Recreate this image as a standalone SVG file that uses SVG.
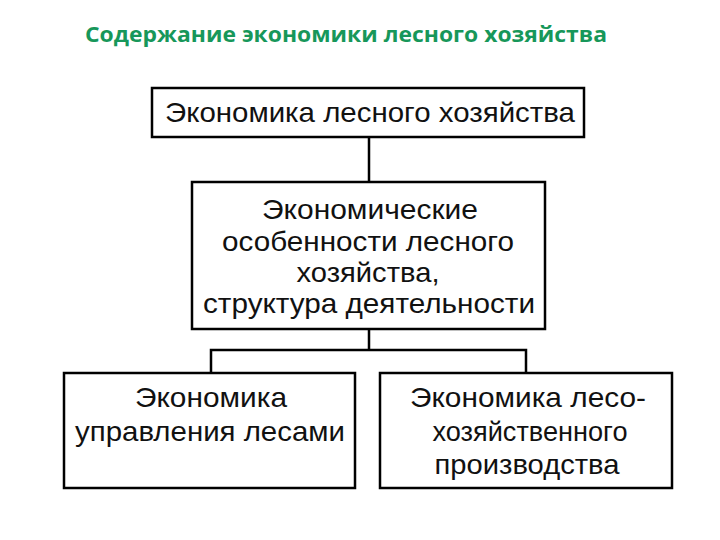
<svg xmlns="http://www.w3.org/2000/svg" width="720" height="540" viewBox="0 0 720 540">
<style>
.box{fill:#fff;stroke:#000;stroke-width:2.5}
.t{font-family:"Liberation Sans",Arial,sans-serif;font-size:28px;fill:#111;text-anchor:middle}
.c{fill:none;stroke:#000;stroke-width:2.5}
</style>
<rect width="720" height="540" fill="#fff"/>
<text x="85" y="42" font-family="'Open Sans','Liberation Sans',sans-serif" font-weight="bold" font-size="21" fill="#17975a" textLength="522" lengthAdjust="spacingAndGlyphs">Содержание экономики лесного хозяйства</text>
<g id="connectors">
<path class="c" d="M369 137V182M369 329V350M211 373V350H526V373"/>
</g>
<g id="n1"><rect class="box" x="152" y="88" width="432" height="49"/>
<text class="t" x="370" y="122" textLength="410" lengthAdjust="spacingAndGlyphs">Экономика лесного хозяйства</text></g>
<g id="n2"><rect class="box" x="192" y="182" width="353" height="147"/>
<text class="t" x="370" y="219" textLength="216" lengthAdjust="spacingAndGlyphs">Экономические</text>
<text class="t" x="368" y="251" textLength="292" lengthAdjust="spacingAndGlyphs">особенности лесного</text>
<text class="t" x="368" y="282" textLength="143" lengthAdjust="spacingAndGlyphs">хозяйства,</text>
<text class="t" x="369" y="313" textLength="332" lengthAdjust="spacingAndGlyphs">структура деятельности</text></g>
<g id="n3"><rect class="box" x="64" y="373" width="291" height="115"/>
<text class="t" x="211" y="407" textLength="152" lengthAdjust="spacingAndGlyphs">Экономика</text>
<text class="t" x="210" y="441" textLength="270" lengthAdjust="spacingAndGlyphs">управления лесами</text></g>
<g id="n4"><rect class="box" x="380" y="373" width="292" height="115"/>
<text class="t" x="528" y="407" textLength="236" lengthAdjust="spacingAndGlyphs">Экономика лесо-</text>
<text class="t" x="530" y="441" textLength="195" lengthAdjust="spacingAndGlyphs">хозяйственного</text>
<text class="t" x="527" y="474" textLength="185" lengthAdjust="spacingAndGlyphs">производства</text></g>
</svg>
